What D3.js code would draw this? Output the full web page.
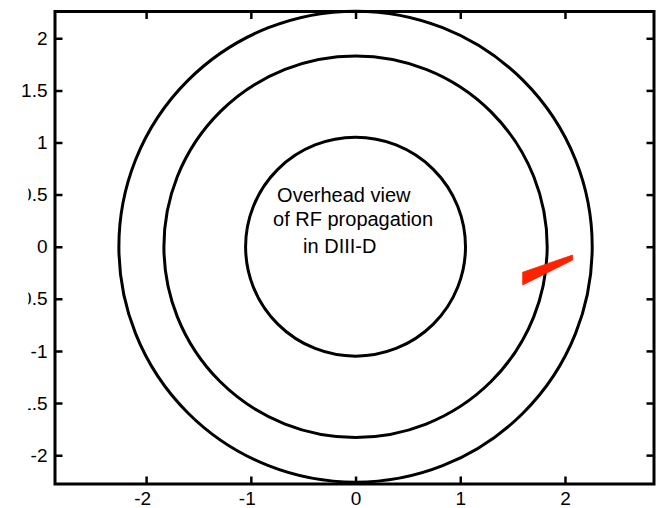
<!DOCTYPE html>
<html>
<head>
<meta charset="utf-8">
<script src="https://cdn.jsdelivr.net/npm/d3@7"></script>
<style>
  html, body { margin: 0; padding: 0; background: #fff; }
  svg { display: block; }
  text { font-family: "Liberation Sans", Arial, Helvetica, sans-serif; fill: #000; }
</style>
</head>
<body>
<svg id="chart" width="658" height="508"></svg>
<script>
// Axis limits (machine units, metres)
const xLimits = [-2.87, 2.85];
const yLimits = [-2.277, 2.257];

// Tick values on both axes
const xTicks = [-2, -1, 0, 1, 2];
const yTicks = [-2, -1.5, -1, -0.5, 0, 0.5, 1, 1.5, 2];

// Flux-surface / wall circles (radius, m)
const circleRadii = [1.05, 1.83, 2.26];

// RF ray bundle outline (x, y in m)
const rayX = [1.596, 2.073, 2.073, 1.596];
const rayY = [-0.245, -0.080, -0.128, -0.367];

// Annotation text lines and their anchor points (data units)
const noteLines = ["Overhead view", "of RF propagation", "in DIII-D"];
const noteX = [-0.749, -0.788, -0.501];
const noteY = [0.427, 0.200, -0.056];

const svg = d3.select("#chart");
const plotLeft = 55, plotRight = 654, plotTop = 11.5, plotBottom = 484;

const x = d3.scaleLinear().domain(xLimits).range([plotLeft, plotRight]);
const y = d3.scaleLinear().domain(yLimits).range([plotBottom, plotTop]);

// Circles
svg.append("g")
  .selectAll("ellipse")
  .data(circleRadii)
  .join("ellipse")
  .attr("cx", x(0))
  .attr("cy", y(0))
  .attr("rx", r => x(r) - x(0))
  .attr("ry", r => y(0) - y(r))
  .attr("fill", "none")
  .attr("stroke", "#000")
  .attr("stroke-width", 3);

// Ray bundle
svg.append("path")
  .datum(d3.range(rayX.length))
  .attr("d", d3.line().x(i => x(rayX[i])).y(i => y(rayY[i])).curve(d3.curveLinearClosed))
  .attr("fill", "#ff2200")
  .attr("stroke", "#ff2200")
  .attr("stroke-width", 0.8);

// Annotation
svg.append("g")
  .selectAll("text")
  .data(noteLines)
  .join("text")
  .attr("x", (d, i) => x(noteX[i]))
  .attr("y", (d, i) => y(noteY[i]))
  .attr("font-size", 20)
  .text(d => d);

// Clip for the left tick labels: lower labels are cut at the left edge
const clip = svg.append("defs").append("clipPath").attr("id", "ylabclip");
const cutY = y(1.25);
clip.append("rect").attr("x", -60).attr("y", -20).attr("width", 80).attr("height", cutY + 20);
clip.append("rect").attr("x", 28.3 - plotLeft).attr("y", cutY).attr("width", 60).attr("height", 600);

const tickLen = 7.5;
const fmt = d => String(d);

// Left axis with labels
const gLeft = svg.append("g")
  .attr("transform", `translate(${plotLeft},0)`)
  .attr("clip-path", "url(#ylabclip)")
  .call(d3.axisLeft(y).tickValues(yTicks).tickSize(-tickLen).tickPadding(7.5).tickFormat(fmt));

// Bottom axis with labels
const gBottom = svg.append("g")
  .attr("transform", `translate(0,${plotBottom})`)
  .call(d3.axisBottom(x).tickValues(xTicks).tickSize(-tickLen).tickPadding(8).tickFormat(fmt));

// Top and right axes: ticks only
const gTop = svg.append("g")
  .attr("transform", `translate(0,${plotTop})`)
  .call(d3.axisTop(x).tickValues(xTicks).tickSize(-tickLen).tickFormat(""));
const gRight = svg.append("g")
  .attr("transform", `translate(${plotRight},0)`)
  .call(d3.axisRight(y).tickValues(yTicks).tickSize(-tickLen).tickFormat(""));

[gLeft, gBottom, gTop, gRight].forEach(g => {
  g.select(".domain").remove();
  g.selectAll(".tick line").attr("stroke", "#000").attr("stroke-width", 2.5);
  g.selectAll(".tick text").attr("font-size", 19).attr("font-family", null).attr("fill", "#000");
});
gBottom.selectAll(".tick text")
  .attr("dy", null)
  .attr("y", 21)
  .attr("dx", d => d < 0 ? -4 : 0);

// Frame
svg.append("rect")
  .attr("x", plotLeft).attr("y", plotTop)
  .attr("width", plotRight - plotLeft).attr("height", plotBottom - plotTop)
  .attr("fill", "none")
  .attr("stroke", "#000")
  .attr("stroke-width", 3);
</script>
</body>
</html>
